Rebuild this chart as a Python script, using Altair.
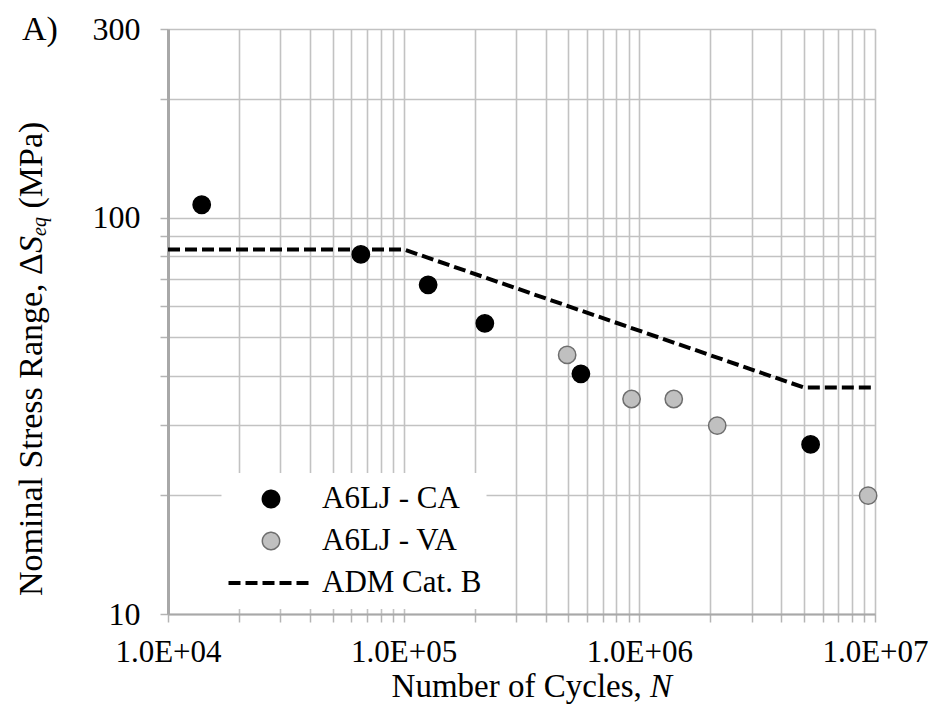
import altair as alt
import pandas as pd

# Fatigue test results: constant-amplitude (CA) and variable-amplitude (VA)
ca_cycles = [13900, 65800, 127000, 221000, 565000, 5330000]
ca_stress = [108, 80.9, 67.8, 54.2, 40.4, 26.8]
va_cycles = [494000, 927000, 1400000, 2140000, 9350000]
va_stress = [45.1, 34.9, 34.9, 29.9, 19.9]

# ADM Category B design curve vertices
adm_cycles = [1e4, 1e5, 5e6, 1e7]
adm_stress = [83.3, 83.3, 37.3, 37.3]

series_names = ["A6LJ - CA", "A6LJ - VA", "ADM Cat. B"]
series_fill = ["#000000", "#c0c0c0", "transparent"]
series_stroke = ["#000000", "#6e6e6e", "#000000"]
series_shape = ["circle", "circle", "stroke"]
series_size = [300, 300, 7225]
series_width = [1.5, 1.5, 4]
series_dash = [[1, 0], [1, 0], [12, 5]]

# Axis ticks / gridlines and their labels
x_grid_values = [1e4, 2e4, 3e4, 4e4, 5e4, 6e4, 7e4, 8e4, 9e4,
                 1e5, 2e5, 3e5, 4e5, 5e5, 6e5, 7e5, 8e5, 9e5,
                 1e6, 2e6, 3e6, 4e6, 5e6, 6e6, 7e6, 8e6, 9e6, 1e7]
x_label_values = [1e4, 1e5, 1e6, 1e7]
x_labels = ["1.0E+04", "1.0E+05", "1.0E+06", "1.0E+07"]
y_grid_values = [10, 20, 30, 40, 50, 60, 70, 80, 90, 100, 200, 300]
y_label_values = [10, 100, 300]
y_labels = ["10", "100", "300"]

SERIF = "Liberation Serif"


def label_expr(values, labels):
    parts = [f"abs(datum.value - {v}) < {v} * 1e-6 ? '{t}'" for v, t in zip(values, labels)]
    return " : ".join(parts) + " : ''"


points = pd.DataFrame({
    "cycles": ca_cycles + va_cycles,
    "stress": ca_stress + va_stress,
    "series": [series_names[0]] * len(ca_cycles) + [series_names[1]] * len(va_cycles),
})
curve = pd.DataFrame({
    "cycles": adm_cycles,
    "stress": adm_stress,
    "series": [series_names[2]] * len(adm_cycles),
})

legend = alt.Legend(
    title=None, orient="none", legendX=53.5, legendY=444,
    labelFont=SERIF, labelFontSize=31, labelColor="#000000", labelLimit=400,
    fillColor="#ffffff", padding=5, rowPadding=0, clipHeight=42, labelOffset=6.5,
)

axis_common = dict(
    title=None, labelFont=SERIF, labelColor="#000000",
    labelFlush=False, labelOverlap=False, tickSize=8, tickColor="#b4b4b4",
    tickWidth=1.5, gridColor="#c2c2c2", gridWidth=1.6, domainColor="#a8a8a8",
)

x_enc = alt.X(
    "cycles:Q",
    scale=alt.Scale(type="log", domain=[1e4, 1e7], nice=False),
    axis=alt.Axis(values=x_grid_values, labelExpr=label_expr(x_label_values, x_labels),
                  labelFontSize=31, labelPadding=15, domainWidth=2, **axis_common),
)
y_enc = alt.Y(
    "stress:Q",
    scale=alt.Scale(type="log", domain=[10, 300], nice=False),
    axis=alt.Axis(values=y_grid_values, labelExpr=label_expr(y_label_values, y_labels),
                  labelFontSize=32, labelPadding=20, domainWidth=3, **axis_common),
)

fill_scale = alt.Scale(domain=series_names, range=series_fill)
stroke_scale = alt.Scale(domain=series_names, range=series_stroke)
shape_scale = alt.Scale(domain=series_names, range=series_shape)
size_scale = alt.Scale(type="ordinal", domain=series_names, range=series_size)
width_scale = alt.Scale(type="ordinal", domain=series_names, range=series_width)
dash_scale = alt.Scale(domain=series_names, range=series_dash)

design_line = alt.Chart(curve).mark_line().encode(
    x=x_enc, y=y_enc,
    stroke=alt.Stroke("series:N", scale=stroke_scale, legend=legend),
    strokeDash=alt.StrokeDash("series:N", scale=dash_scale, legend=legend),
    strokeWidth=alt.StrokeWidth("series:N", scale=width_scale, legend=legend),
)

test_points = alt.Chart(points).mark_point(filled=True, opacity=1).encode(
    x=x_enc, y=y_enc,
    fill=alt.Fill("series:N", scale=fill_scale, legend=legend),
    stroke=alt.Stroke("series:N", scale=stroke_scale, legend=legend),
    shape=alt.Shape("series:N", scale=shape_scale, legend=legend),
    size=alt.Size("series:N", scale=size_scale, legend=legend),
    strokeWidth=alt.StrokeWidth("series:N", scale=width_scale, legend=legend),
)


def text_piece(text, x, y, size=34, align="left", angle=0, style="normal"):
    return alt.Chart(pd.DataFrame({"t": [text]})).mark_text(
        font=SERIF, fontSize=size, fontStyle=style, align=align,
        baseline="alphabetic", angle=angle, color="#000000",
    ).encode(text="t:N", x=alt.value(x), y=alt.value(y))


# Panel tag
panel_tag = text_piece("A)", -146, 11)

# x-axis title: "Number of Cycles, N" with italic N
x_title = [
    text_piece("Number of Cycles,", 473.8, 668, size=33, align="right"),
    text_piece("N", 482.0, 668, size=33, style="italic"),
]

# y-axis title: "Nominal Stress Range, ΔS_eq (MPa)" read bottom to top
y_title = [
    text_piece("Nominal Stress Range, Δ", -126, 224, align="right", angle=270),
    text_piece("S", -126, 224, angle=270, style="italic"),
    text_piece("eq", -122, 207, size=20, angle=270, style="italic"),
    text_piece("(MPa)", -126, 179.5, angle=270),
]

chart = alt.layer(
    design_line, test_points, panel_tag, *x_title, *y_title
).properties(
    width=707, height=585,
    autosize=alt.AutoSizeParams(type="none"),
    padding={"left": 168, "top": 29, "right": 62, "bottom": 111},
    background="#ffffff",
).configure_view(stroke=None)

chart.save("out.html", embed_options={"renderer": "svg", "actions": False})
